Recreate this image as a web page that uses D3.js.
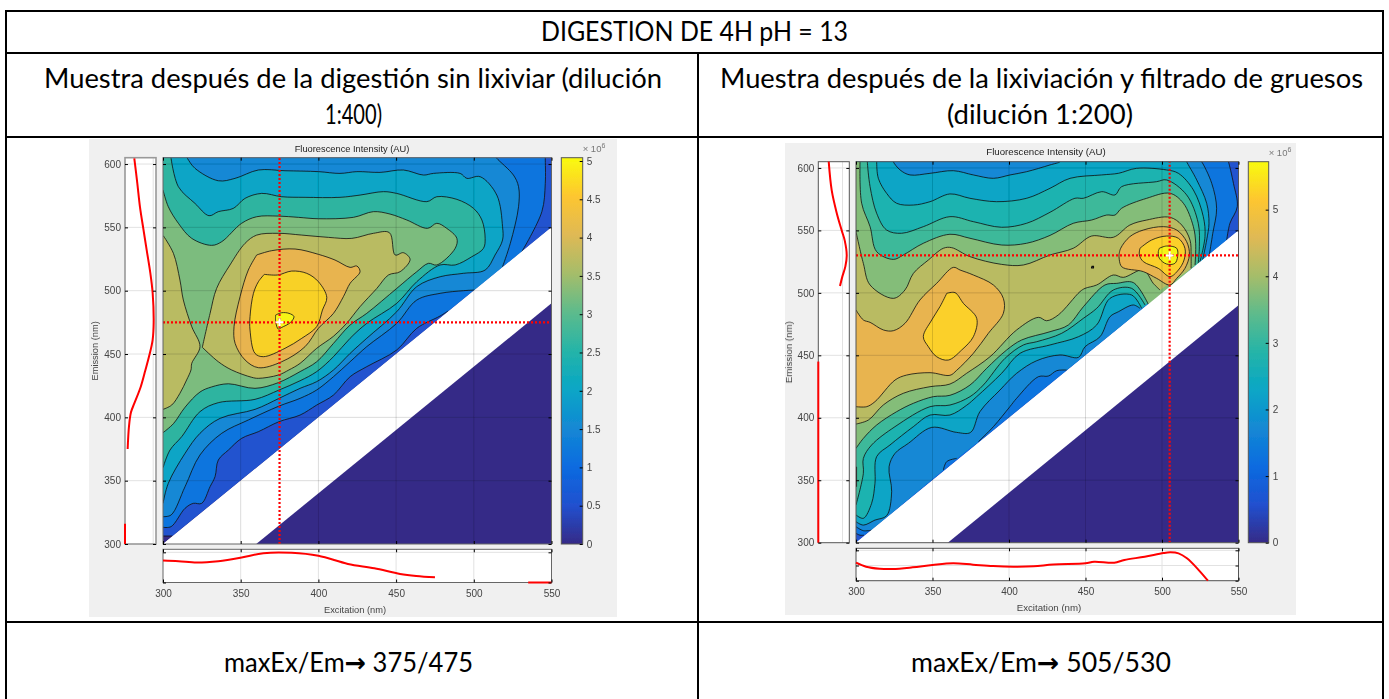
<!DOCTYPE html>
<html>
<head>
<meta charset="utf-8">
<script src="https://cdnjs.cloudflare.com/ajax/libs/d3/7.8.5/d3.min.js"></script>
<style>
    body { margin: 0; background: #fff; }
    svg { display: block; }
    .matlab text { font-family: "Liberation Sans", sans-serif; fill: #444; }
    .tbl { font-family: Lato, sans-serif; fill: #000; }
</style>
</head>
<body>
<svg width="1389" height="699">
    <filter id="soft" x="0" y="0" width="1" height="1"><feGaussianBlur stdDeviation="0.4"></feGaussianBlur></filter>
</svg>
<script>
// every contour is [excitation, emission], a level is a list of pieces joined into one ring
let leftBase = [[[300, 306.3], [306, 306.3]], [[550, 550]], [[550, 606]], [[300, 606]]];
let leftE = [
    [[300, 313.2], [305.2, 313.7], [314.2, 328.2], [319.5, 332.1], [324.9, 332.1], [330.3, 345.3], [333.5, 353.2], [335.6, 366.3], [342.1, 374.2], [350.6, 383.4], [361.4, 388.7], [374.7, 396.6], [388.2, 401.8], [398.9, 409.7], [409.7, 417.6], [420.4, 432.1], [431.1, 440], [450.4, 453.2], [463.3, 470.3], [478.3, 480], [483.5, 484]],
    [[530.9, 530.8], [543.8, 562.4], [546, 584.7], [546, 604.5], [546, 606]],
    [[300, 606]]
];
let leftD = [
    [[300, 321.6], [305.2, 322.9], [314.2, 345.3], [323.8, 370.3], [337.8, 387.4], [354.9, 397.9], [374.7, 408.9], [388.2, 415], [398.9, 421.6], [409.7, 432.1], [420.4, 443.9], [431.1, 455.8], [450.4, 474.2], [463.3, 492.6], [478.3, 497.9], [493.3, 500], [500.4, 500.5]],
    [[518.5, 518.9], [523.5, 537.4], [528.8, 566.3], [528.8, 582.1], [525.5, 591.3], [514.8, 604.5], [514, 606]],
    [[300, 606]]
];
let leftC = [
    [[300, 332.1], [303.4, 347.9], [314.2, 371.6], [323.8, 387.4], [336.7, 399.2], [359.2, 406.3], [374.7, 415], [388.2, 422.9], [398.9, 428.2], [409.7, 437.4], [420.4, 450.5], [431.1, 462.4], [450.4, 483.4], [463.3, 503.2], [478.3, 511], [493.3, 513.7], [507.3, 516.3], [513.7, 528.2], [518.5, 540], [518.5, 550.5], [514.8, 575.5], [504.1, 590], [495.5, 588.7], [491.2, 592.6], [474, 592.6], [467.6, 591.3], [454.7, 595.3], [439.7, 593.4], [424.7, 594], [413.9, 592.6], [400, 594], [378.5, 594.7], [361.4, 595.3], [346.4, 588.7], [335.6, 586.8], [320.6, 596.6], [315.7, 604.5], [315, 606]],
    [[300, 606]]
];
let leftB = [
    [[300, 360.3], [304.5, 374.2], [312, 384.7], [323.8, 404.5], [335.6, 411.6], [359.2, 414.2], [374.7, 421.6], [388.2, 428.9], [398.9, 436.1], [409.7, 447.9], [420.4, 462.4], [431.1, 474.2], [450.4, 490], [463.3, 507.1], [478.3, 520.3], [488, 520.3], [498.7, 526.8], [506.2, 533.4], [507.3, 541.3], [505.2, 555.8], [499.8, 565], [489.1, 572.1], [476.2, 574.2], [469.8, 570.3], [450.4, 576.8], [441.9, 578.2], [426.8, 575.5], [413.9, 573.7], [391.4, 573.7], [376.4, 574.2], [363.5, 576.8], [352.8, 572.9], [345.3, 565], [335.6, 562.4], [329.6, 559.2], [320.6, 568.9], [309.9, 582.1], [305, 606]],
    [[300, 606]]
];
let leftA = [
    [[300, 387.9], [306.7, 395], [314.2, 408], [323.8, 420], [331.3, 424], [342.1, 426.5], [359.2, 422.9], [374.2, 427.4], [388.2, 436.1], [398.9, 443.9], [409.7, 458.4], [420.4, 472.9], [431.1, 482.1], [450.4, 501.8], [463.3, 515], [470.8, 521.6], [476.2, 520.3], [488, 533.4], [489.1, 541.3], [482.6, 549.2], [476.2, 553.2], [470.2, 549.2], [456.9, 555.8], [446.1, 560.5], [435.4, 562.4], [422.5, 557.9], [400, 556.8], [387.1, 557.9], [374.2, 558.9], [360.3, 558.4], [350.6, 553.2], [337.8, 538.7], [331.3, 535.8], [318.5, 541.3], [309.9, 553.2], [303.4, 566.3], [300, 579.5]]
];
let leftF1 = [
    [[325.3, 455.3], [330.3, 482.1], [334.5, 501.8], [343.1, 520.3], [352.8, 537.4], [360.3, 543.9], [374.2, 545.3], [389.3, 543.9], [406.4, 542.1], [421.5, 541.3], [435.4, 545.3], [445.7, 545.8], [449.4, 528.2], [454.7, 530], [459, 524.7], [452.6, 515], [445.1, 512.4], [437.6, 501.8], [426.8, 487.4], [418, 474], [409.7, 464], [398.9, 454.5], [388.2, 442.6], [381, 437.4], [374.2, 433.4], [361.4, 430.8], [357.1, 431.6], [344.2, 437.4], [335.6, 443.9], [325.3, 455.3]]
];
let leftF2 = [
    [[300.2, 543.4], [306.7, 529.5], [310.9, 508.4], [313.1, 492.6], [318.5, 471.6], [323.8, 455.8], [318.5, 442.6], [318, 437.4], [315.2, 429.5], [310.9, 419], [305.6, 409.7], [300, 406.3]]
];
let leftG = [
    [[360.3, 528.2], [370, 531.6], [385, 532.9], [400, 528.7], [410.7, 524.2], [420.4, 518.4], [424.7, 519.5], [426.8, 515], [420.4, 505.8], [416.1, 495.3], [409.7, 482.1], [400, 470.3], [391.4, 455.8], [376.4, 443.9], [361.4, 439.2], [352.8, 445.3], [346.4, 458.4], [345.7, 471.6], [349.6, 495.3], [354.9, 516.3], [360.3, 528.2]]
];
let leftH = [
    [[365.2, 512.9], [373.8, 512.4], [382.8, 515.5], [392.5, 513.7], [400, 507.1], [405.4, 494.7], [402.6, 484.7], [398.9, 471.6], [389.3, 462.4], [378.5, 454.5], [364.6, 447.9], [359.2, 450.5], [356, 468.9], [356, 479.5], [358.2, 497.9], [361.4, 507.1], [365.2, 512.9]]
];
let leftI = [
    [[372.5, 480.8], [376.4, 482.6], [381.1, 482.1], [384.3, 479.5], [381.8, 474.7], [376.4, 471], [374.2, 469.7], [372.5, 475.5], [372.5, 480.8]]
];

let rightH = [
    [[300, 307.5], [302.6, 306], [305.2, 306]],
    [[542.3, 542.3], [544.4, 555.7], [549.2, 569], [546.7, 587.7], [543.4, 605], [543, 606]],
    [[300, 606]]
];
let rightG = [
    [[300, 312.8], [304.8, 309.6], [310, 310]],
    [[357.1, 358.2], [359.3, 364.9], [365.8, 367.5]],
    [[380, 380.9], [389.8, 392.9], [400.6, 408.9], [405, 415.6], [419.2, 432.9], [425.7, 433.4], [431.2, 437.7], [437.7, 438.2]],
    [[531, 531], [533.2, 547.7], [535.7, 567.7], [532.5, 587.7], [525.9, 605], [525, 606]],
    [[300, 606]]
];
let rightF = [
    [[300, 316.8], [304.8, 314.1], [312.4, 318.1], [320, 321.6], [323.3, 340.8], [321.6, 360.8], [325.5, 371.5], [334.2, 379.5], [349.5, 392.3], [365.8, 388.3], [374.9, 388.3], [381, 404.9], [394.1, 422.2], [405, 435.6], [418.1, 445.7], [433.3, 450.3], [445.4, 448.4], [449.7, 456.9], [459.5, 464.9], [466, 480.9], [471.5, 484.9], [481.3, 490.3], [485.6, 487.6]],
    [[526.6, 526.6], [529.2, 542.3], [530.7, 555.7], [529.2, 571.7], [522.7, 590.4], [516.1, 605], [515.8, 606]],
    [[433.3, 606], [433.3, 605], [426.8, 602.4], [411.5, 597], [400.7, 594.4], [389.8, 591.7], [376.7, 594.4], [363.6, 597.8], [348.4, 595.7], [335.3, 594.4], [328.8, 598.4], [324.4, 605], [324.4, 606]],
    [[300, 606]]
];
let rightE = [
    [[300, 322.2], [304.8, 319.5], [310.2, 331.5], [312.4, 347.5], [313.5, 368.9], [322.2, 378.2], [337.5, 392.9], [348.4, 402.2], [361.4, 402.2], [372.3, 410], [378.9, 416.9], [395.2, 435.6], [407.2, 451.6], [426.8, 458.3], [445.4, 464.9], [457.3, 474.3], [466, 495.6], [480.2, 498.3], [486.7, 487.6]],
    [[524.8, 524.8], [528.1, 545], [527, 561], [520.5, 582.4], [510.7, 595.7], [503, 598.4], [483.4, 599.7], [471.5, 595.7], [460.6, 594.4], [439.9, 591.7], [426.8, 583.7], [411.5, 575.7], [391.9, 573], [374.5, 575.7], [361.4, 579.2], [348.4, 573], [337.5, 570.3], [326.6, 571.7], [320, 579.7], [314.6, 591.7], [313.5, 605], [313.5, 606]],
    [[300, 606]]
];
let rightD = [
    [[300, 330.2], [304.8, 355.5], [304.8, 367.5], [310.2, 378.2], [325.5, 392.9], [348.4, 408.9], [361.4, 410.2], [374.5, 416.9], [383.2, 426.2], [397.4, 447.6], [409.4, 458.3], [418.1, 460.9], [434.4, 467.6], [448.6, 479.6], [457.3, 487.6], [468.2, 502.3], [480.2, 503.6], [488.9, 490.3]],
    [[523.7, 523.7], [524.4, 537], [523.7, 555.7], [516.1, 578.4], [503, 590.4], [496.5, 589], [473.6, 585], [469.3, 578.4], [460.6, 581], [448.6, 575.7], [443.1, 575.7], [426.8, 564.5], [411.5, 555.7], [395.2, 552.5], [376.7, 557], [361.4, 561], [344, 553], [329.8, 547.7], [320, 550.3], [313.5, 563.7], [309.2, 585], [307.4, 605], [307.4, 606]],
    [[300, 606]]
];
let rightC = [
    [[300, 375.5], [304.8, 383.5], [313.5, 394.2], [326.6, 404.9], [337.5, 411.6], [350.5, 416.9], [361.4, 418], [374.5, 426.2], [385.4, 439.6], [398.5, 454.3], [408.3, 462.3], [426.8, 468.9], [438.8, 474.3], [448.6, 488.9], [462.7, 506.3], [470.4, 507.6], [481.3, 508.2], [492.2, 488]],
    [[521.6, 522.3], [522, 539.7], [520.5, 553], [514, 571.7], [505.2, 579.7], [490, 575.7], [473.6, 567.7], [469.3, 562.3], [463.8, 562.3], [454, 558.3], [442, 555.7], [426.8, 546], [411.5, 539.7], [395.2, 538.3], [374.5, 543.7], [361.4, 546.9], [344, 539.7], [330.9, 530.3], [324.4, 526.8], [313.5, 533], [309.2, 553], [303.7, 571.7], [302.6, 605], [302.6, 606]],
    [[300, 606]]
];
let rightB = [
    [[300, 549], [304.8, 523.6], [309.2, 506.3], [324.4, 495.6], [332, 502.3], [337.5, 515.6], [347.3, 526.3], [357.1, 535.7], [362.5, 536.2], [374.5, 529], [395.2, 522.8], [409.4, 522.3], [426.8, 530.3], [442, 535.7], [454, 545.5], [468.2, 544.5], [479, 554.3], [490, 558.3], [505.2, 560.5], [512.9, 554.3], [518.3, 542.3], [519, 530.3], [519, 519.6]],
    [[498.7, 502.3], [494.3, 507.6], [487.8, 518.3], [474.7, 512.4], [468.2, 514.3], [457.3, 506.3], [449.7, 503.6], [446.4, 501], [432.2, 482.3], [424.6, 477.7], [419.2, 480.4], [405, 470.3], [387.6, 448.9], [372.3, 435.6], [361.4, 427], [348.4, 424.9], [330.9, 419.6], [317.9, 410.3], [308.1, 398.2], [300, 395]]
];
let rightO1 = [
    [[300, 486.3], [304.8, 478.3], [309.2, 476.4], [317.9, 470.3], [324.4, 469.7], [332, 475.6], [341.8, 494.3], [352.7, 507.6], [363.6, 520.4], [368, 518.3], [376.7, 514.3], [389.8, 506.3], [396.3, 495.6], [396.3, 483.6], [386.5, 467.6], [376.7, 451.6], [365.8, 438], [361.4, 434], [348.4, 436.1], [333.1, 434.2], [325.5, 430.2], [312.4, 412.9], [307, 408.9], [300, 408.9]]
];
let rightO2 = [
    [[471.9, 530.3], [473, 535.7], [479, 545], [487.8, 550.3], [500.9, 553], [509.6, 550.3], [516.1, 541], [517.9, 530.3], [515, 519.6], [509.6, 511.6], [505.2, 506.3], [496.5, 511.6], [487.8, 517], [473.6, 521], [471.9, 530.3]]
];
let rightY1 = [
    [[359.3, 499.6], [364.7, 500.2], [370.2, 491.6], [378.9, 479.6], [376.7, 464.9], [369.1, 454.3], [360.3, 446.2], [352.7, 448.9], [347.3, 456.9], [344, 464.9], [349.5, 478.3], [354.9, 489], [359.3, 499.6]]
];
let rightY2 = [
    [[485.6, 535.7], [493.2, 542.3], [503, 545.5], [510.7, 543.7], [515, 535.7], [514.4, 526.3], [510.7, 518.3], [505.2, 513], [497.6, 519.6], [487.8, 525], [485.2, 530.3], [485.6, 535.7]]
];
let rightPeak = [
    [[498.3, 535.7], [503, 537.5], [509.6, 535.7], [510.2, 529], [508.4, 523.6], [503, 523.1], [498.3, 527.6], [497.6, 533], [498.3, 535.7]]
];
let rightSpeck = [[[454, 521.2], [455.2, 521.2], [455.2, 520], [454, 520], [454, 521.2]]];
let rightStub = [[[300.3, 344.8], [300.3, 360.8]]];

// profile curves, [wavelength, intensity in 1e6]
let leftEmProfile = [[604.5, 1.65], [585, 2.18], [566, 2.66], [549, 3.25], [532, 3.85], [514, 4.49], [498, 4.91], [475, 5.09], [461, 4.9], [448, 4.26], [437, 3.6], [424, 2.78], [411, 1.65], [404, 1.06], [393, 0.71], [375, 0.47]];
let leftEmZero = [[316, 0], [300, 0]];
let leftExProfile = [[300, 3.63], [310, 3.53], [321.7, 3.3], [335.6, 3.53], [350.6, 4.14], [364.6, 4.86], [382.8, 4.92], [400, 4.42], [419, 3.08], [436, 2.36], [452.6, 1.42], [463, 1.08], [475, 0.86]];
let leftExZero = [[535, 0], [550, 0]];
let rightEmProfile = [[605, 2.15], [582, 2.77], [564, 3.8], [550, 4.83], [542, 5.45], [530, 5.87], [521, 5.58], [513, 4.96], [505.5, 4.48]];
let rightEmZero = [[445, 0], [300, 0]];
let rightExProfile = [[300, 3.56], [306.6, 2.77], [315.4, 2.37], [324, 2.31], [337, 2.64], [350, 3.1], [363.5, 3.43], [376.5, 3.17], [389.6, 2.9], [402.8, 2.77], [416, 2.84], [429, 3.2], [450, 3.43], [455.6, 3.76], [468.8, 3.56], [475.4, 4.09], [488.7, 4.74], [501, 5.47], [505.5, 5.6], [510.8, 5.4], [516.3, 4.42], [524, 2.1], [530, 0]];

let exTicks = [300, 350, 400, 450, 500, 550];
let emTicks = [300, 350, 400, 450, 500, 550, 600];
let leftBarTicks = [0, 0.5, 1, 1.5, 2, 2.5, 3, 3.5, 4, 4.5, 5];
let rightBarTicks = [0, 1, 2, 3, 4, 5];

let parula = ["#352a87", "#2150cf", "#0a6be0", "#1488d4", "#07a6c6", "#25b4a8", "#5dbb8c", "#a5bd6a", "#dfb955", "#fdc630", "#f9fb0e"];
let leftColors = ["#2353cf", "#0f75de", "#1388d5", "#07a5c6", "#2db4a0", "#7cbc7e", "#b9bb62", "#b9bb62", "#e8b44f", "#f8d128", "#f5f515"];
let rightColors = ["#0f75de", "#1388d5", "#07a5c6", "#1ab3b0", "#3eb99a", "#84bd79", "#b9bb62", "#e8b44f", "#e8b44f", "#fbd029", "#fbd029", "#f5f515"];

let whiteBand = [[300, 300], [550, 550], [550, 490], [360, 300]];
let zeroBand = [[360, 300], [550, 490], [550, 300]];
let topTriangle = [[300, 300], [550, 550], [550, 606], [300, 606]];

let svg = d3.select("svg");

// word table around the two figures
let tableLines = [[6, 11, 1383, 11], [6, 53, 1383, 53], [6, 137, 1383, 137], [6, 622, 1383, 622], [6, 11, 6, 699], [1383, 11, 1383, 699], [698, 53, 698, 699]];
svg.selectAll(".rule").data(tableLines).enter().append("line")
    .attr("x1", d => d[0]).attr("y1", d => d[1]).attr("x2", d => d[2]).attr("y2", d => d[3])
    .attr("stroke", "#000").attr("stroke-width", 2).attr("stroke-linecap", "square");

let tableText = [
    ["DIGESTION DE 4H pH = 13", 694.5, 41, 307],
    ["Muestra después de la digestión sin lixiviar (dilución", 353, 88, 618],
    ["1:400)", 353.5, 124, 57],
    ["Muestra después de la lixiviación y filtrado de gruesos", 1041.5, 88, 643],
    ["(dilución 1:200)", 1040, 124, 186]
];
svg.selectAll(".tbl").data(tableText).enter().append("text")
    .attr("class", "tbl").attr("x", d => d[1]).attr("y", d => d[2])
    .attr("text-anchor", "middle").attr("font-size", 26)
    .attr("textLength", d => d[3]).attr("lengthAdjust", "spacingAndGlyphs")
    .text(d => d[0]);

function maxText(cx, width, value) {
    let t = svg.append("text").attr("class", "tbl").attr("x", cx).attr("y", 672)
        .attr("text-anchor", "middle").attr("font-size", 26)
        .attr("textLength", width).attr("lengthAdjust", "spacingAndGlyphs");
    t.append("tspan").text("maxEx/Em");
    t.append("tspan").attr("font-family", "DejaVu Sans").attr("font-weight", "bold").text("→");
    t.append("tspan").text(" " + value);
}
maxText(348.5, 249, "375/475");
maxText(1041, 260, "505/530");

function drawFigure(cfg) {
    let g = svg.append("g").attr("class", "matlab").attr("filter", "url(#soft)");

    g.append("rect").attr("x", cfg.panel[0]).attr("y", cfg.panel[1])
        .attr("width", cfg.panel[2] - cfg.panel[0]).attr("height", cfg.panel[3] - cfg.panel[1])
        .attr("fill", "#f0f0f0");

    let x = d3.scaleLinear().domain([300, 550]).range(cfg.xRange);
    let y = d3.scaleLinear().domain([300, 605]).range(cfg.yRange);
    let line = d3.line().x(d => x(d[0])).y(d => y(d[1]));
    let smooth = d3.line().x(d => x(d[0])).y(d => y(d[1])).curve(d3.curveCatmullRom.alpha(0.5));

    let clipId = "clip" + cfg.id;
    g.append("clipPath").attr("id", clipId).append("rect")
        .attr("x", cfg.xRange[0]).attr("y", cfg.yRange[1])
        .attr("width", cfg.xRange[1] - cfg.xRange[0]).attr("height", cfg.yRange[0] - cfg.yRange[1]);

    let plot = g.append("g").attr("clip-path", "url(#" + clipId + ")");

    plot.append("path").attr("d", line(topTriangle) + "Z").attr("fill", cfg.baseColor);

    // filled rings from the lowest level up, then only the real contour pieces get a line
    cfg.levels.forEach(function (level, i) {
        let ring = level.map(function (piece, k) {
            let d = smooth(piece).replace("Z", "");
            return k ? d.replace(/^M/, "L") : d;
        }).join("") + "Z";
        plot.append("path").attr("d", ring).attr("fill", cfg.colors[i]);
        level.filter(s => s.length > 1).forEach(function (piece) {
            plot.append("path").attr("d", smooth(piece))
                .attr("fill", "none").attr("stroke", "#111").attr("stroke-width", 0.9).attr("stroke-opacity", 0.9);
        });
    });
    (cfg.extras || []).forEach(function (piece) {
        plot.append("path").attr("d", line(piece)).attr("fill", "none").attr("stroke", "#111").attr("stroke-width", 1.2);
    });

    plot.append("path").attr("d", line(whiteBand) + "Z").attr("fill", "#fff");
    plot.append("path").attr("d", line(zeroBand) + "Z").attr("fill", "#352a87");

    // grid
    exTicks.slice(1, -1).forEach(function (t) {
        plot.append("line").attr("x1", x(t)).attr("x2", x(t)).attr("y1", cfg.yRange[0]).attr("y2", cfg.yRange[1])
            .attr("stroke", "#000").attr("stroke-opacity", 0.14);
    });
    emTicks.slice(1).forEach(function (t) {
        plot.append("line").attr("x1", cfg.xRange[0]).attr("x2", cfg.xRange[1]).attr("y1", y(t)).attr("y2", y(t))
            .attr("stroke", "#000").attr("stroke-opacity", 0.14);
    });

    // crosshair on the maximum
    plot.append("line").attr("x1", x(cfg.peak[0])).attr("x2", x(cfg.peak[0])).attr("y1", cfg.yRange[0]).attr("y2", cfg.yRange[1])
        .attr("stroke", "#f00").attr("stroke-width", 2.2).attr("stroke-dasharray", "2,2");
    plot.append("line").attr("x1", cfg.xRange[0]).attr("x2", cfg.xRange[1]).attr("y1", y(cfg.peak[1])).attr("y2", y(cfg.peak[1]))
        .attr("stroke", "#f00").attr("stroke-width", 2.2).attr("stroke-dasharray", "2,2");
    g.append("path")
        .attr("d", "M" + (x(cfg.peak[0]) - 4) + "," + y(cfg.peak[1]) + "h8M" + x(cfg.peak[0]) + "," + (y(cfg.peak[1]) - 4) + "v8")
        .attr("stroke", "#fff").attr("stroke-width", 2);

    g.append("rect").attr("x", cfg.xRange[0]).attr("y", cfg.yRange[1])
        .attr("width", cfg.xRange[1] - cfg.xRange[0]).attr("height", cfg.yRange[0] - cfg.yRange[1])
        .attr("fill", "none").attr("stroke", cfg.frame);

    let xAxisIn = d3.axisBottom(x).tickValues(exTicks).tickSize(-3).tickFormat("");
    g.append("g").attr("transform", "translate(0," + cfg.yRange[0] + ")").call(xAxisIn).call(s => s.select(".domain").remove());
    g.append("g").attr("transform", "translate(0," + cfg.yRange[1] + ")").call(d3.axisTop(x).tickValues(exTicks).tickSize(-3).tickFormat("")).call(s => s.select(".domain").remove());
    g.append("g").attr("transform", "translate(" + cfg.xRange[0] + ",0)").call(d3.axisLeft(y).tickValues(emTicks).tickSize(-3).tickFormat("")).call(s => s.select(".domain").remove());
    g.append("g").attr("transform", "translate(" + cfg.xRange[1] + ",0)").call(d3.axisRight(y).tickValues(emTicks).tickSize(-3).tickFormat("")).call(s => s.select(".domain").remove());

    // emission profile on the left
    let sideX = d3.scaleLinear().domain(cfg.sideDomain).range(cfg.sideRange);
    let sideW = cfg.sideRange[1] - cfg.sideRange[0];
    let side = g.append("g");
    side.append("rect").attr("x", cfg.sideRange[0]).attr("y", cfg.yRange[1]).attr("width", sideW)
        .attr("height", cfg.yRange[0] - cfg.yRange[1]).attr("fill", "#fff");
    emTicks.slice(1).forEach(function (t) {
        side.append("line").attr("x1", cfg.sideRange[0]).attr("x2", cfg.sideRange[1]).attr("y1", y(t)).attr("y2", y(t)).attr("stroke", "#e2e2e2");
    });
    side.append("line").attr("x1", sideX(5)).attr("x2", sideX(5)).attr("y1", cfg.yRange[0]).attr("y2", cfg.yRange[1]).attr("stroke", "#e2e2e2");
    let emLine = d3.line().x(d => sideX(d[1])).y(d => y(d[0])).curve(d3.curveCatmullRom.alpha(0.5));
    side.append("rect").attr("x", cfg.sideRange[0]).attr("y", cfg.yRange[1]).attr("width", sideW)
        .attr("height", cfg.yRange[0] - cfg.yRange[1]).attr("fill", "none").attr("stroke", cfg.sideFrame).attr("stroke-width", cfg.sideFrameWidth);
    cfg.emCurves.forEach(function (c) {
        side.append("path").attr("d", emLine(c)).attr("fill", "none").attr("stroke", "#f00").attr("stroke-width", 2);
    });
    let yLabels = side.append("g").attr("transform", "translate(" + cfg.sideRange[0] + ",0)")
        .call(d3.axisLeft(y).tickValues(emTicks).tickSize(-3).tickPadding(4));
    yLabels.select(".domain").remove();
    yLabels.selectAll("text").attr("font-size", 10).attr("font-family", null);
    side.append("g").attr("transform", "translate(" + cfg.sideRange[1] + ",0)")
        .call(d3.axisRight(y).tickValues(emTicks).tickSize(-3).tickFormat("")).call(s => s.select(".domain").remove());

    // excitation profile below
    let botY = d3.scaleLinear().domain(cfg.sideDomain).range(cfg.botRange);
    let bot = g.append("g");
    bot.append("rect").attr("x", cfg.xRange[0]).attr("y", cfg.botRange[1]).attr("width", cfg.xRange[1] - cfg.xRange[0])
        .attr("height", cfg.botRange[0] - cfg.botRange[1]).attr("fill", "#fff");
    exTicks.slice(1, -1).forEach(function (t) {
        bot.append("line").attr("x1", x(t)).attr("x2", x(t)).attr("y1", cfg.botRange[0]).attr("y2", cfg.botRange[1]).attr("stroke", "#e2e2e2");
    });
    cfg.botTicks.forEach(function (t) {
        bot.append("line").attr("x1", cfg.xRange[0]).attr("x2", cfg.xRange[1]).attr("y1", botY(t)).attr("y2", botY(t)).attr("stroke", "#e2e2e2");
    });
    let exLine = d3.line().x(d => x(d[0])).y(d => botY(d[1])).curve(d3.curveCatmullRom.alpha(0.5));
    bot.append("rect").attr("x", cfg.xRange[0]).attr("y", cfg.botRange[1]).attr("width", cfg.xRange[1] - cfg.xRange[0])
        .attr("height", cfg.botRange[0] - cfg.botRange[1]).attr("fill", "none").attr("stroke", cfg.frame);
    cfg.exCurves.forEach(function (c) {
        bot.append("path").attr("d", exLine(c)).attr("fill", "none").attr("stroke", "#f00").attr("stroke-width", 2);
    });
    let xLabels = bot.append("g").attr("transform", "translate(0," + cfg.botRange[0] + ")")
        .call(d3.axisBottom(x).tickValues(exTicks).tickSize(-3).tickPadding(7));
    xLabels.select(".domain").remove();
    xLabels.selectAll("text").attr("font-size", 10).attr("font-family", null);
    bot.append("g").attr("transform", "translate(0," + cfg.botRange[1] + ")")
        .call(d3.axisTop(x).tickValues(exTicks).tickSize(-3).tickFormat("")).call(s => s.select(".domain").remove());
    bot.append("g").attr("transform", "translate(" + cfg.xRange[0] + ",0)")
        .call(d3.axisLeft(botY).tickValues(cfg.botTicks).tickSize(-3).tickFormat("")).call(s => s.select(".domain").remove());
    bot.append("g").attr("transform", "translate(" + cfg.xRange[1] + ",0)")
        .call(d3.axisRight(botY).tickValues(cfg.botTicks).tickSize(-3).tickFormat("")).call(s => s.select(".domain").remove());

    // colorbar
    let gradId = "grad" + cfg.id;
    let grad = g.append("linearGradient").attr("id", gradId).attr("x1", 0).attr("x2", 0).attr("y1", 1).attr("y2", 0);
    parula.forEach(function (c, i) {
        grad.append("stop").attr("offset", i / (parula.length - 1)).attr("stop-color", c);
    });
    let cbar = d3.scaleLinear().domain(cfg.barDomain).range(cfg.yRange);
    g.append("rect").attr("x", cfg.barX[0]).attr("y", cfg.yRange[1]).attr("width", cfg.barX[1] - cfg.barX[0])
        .attr("height", cfg.yRange[0] - cfg.yRange[1]).attr("fill", "url(#" + gradId + ")").attr("stroke", "#555");
    let barAxis = g.append("g").attr("transform", "translate(" + cfg.barX[1] + ",0)")
        .call(d3.axisRight(cbar).tickValues(cfg.barTicks).tickSize(-3).tickPadding(4).tickFormat(d3.format("~g")));
    barAxis.select(".domain").remove();
    barAxis.selectAll("text").attr("font-size", 10).attr("font-family", null);

    let power = g.append("text").attr("x", cfg.barX[1]).attr("y", cfg.yRange[1] - 6).attr("font-size", 9.5).style("fill", "#777");
    power.append("tspan").text("× 10");
    power.append("tspan").attr("dy", -4).attr("font-size", 7).text("6");

    g.append("text").attr("x", cfg.titleX).attr("y", cfg.titleY).attr("text-anchor", "middle")
        .attr("font-size", cfg.labelSize).style("fill", "#222").text("Fluorescence Intensity (AU)");
    g.append("text").attr("x", cfg.titleX + 3).attr("y", cfg.botRange[0] + 30).attr("text-anchor", "middle")
        .attr("font-size", cfg.labelSize).text("Excitation (nm)");
    g.append("text").attr("transform", "translate(" + cfg.emLabelX + "," + ((cfg.yRange[0] + cfg.yRange[1]) / 2) + ") rotate(-90)")
        .attr("text-anchor", "middle").attr("font-size", cfg.labelSize).text("Emission (nm)");
}

drawFigure({
    id: "L",
    panel: [89, 139, 617, 617],
    xRange: [163, 551.5], yRange: [544, 157.7],
    sideRange: [125, 156], sideDomain: [0, 5.5], sideFrame: "#999", sideFrameWidth: 1.6,
    botRange: [582.5, 549.3], botTicks: [0, 5],
    barX: [561.3, 582.7], barDomain: [0, 5.043], barTicks: leftBarTicks,
    frame: "#666", titleX: 352, titleY: 152, emLabelX: 98, labelSize: 9.3,
    peak: [375, 475], baseColor: "#352a87",
    levels: [leftBase, leftE, leftD, leftC, leftB, leftA, leftF1, leftF2, leftG, leftH, leftI],
    colors: leftColors,
    emCurves: [leftEmProfile, leftEmZero], exCurves: [leftExProfile, leftExZero]
});

drawFigure({
    id: "R",
    panel: [785, 143, 1296, 615],
    xRange: [856, 1238.5], yRange: [542.7, 161.7],
    sideRange: [818.3, 849.3], sideDomain: [0, 6.4], sideFrame: "#555", sideFrameWidth: 1,
    botRange: [580.7, 548.3], botTicks: [0, 3, 6],
    barX: [1248.3, 1268.7], barDomain: [0, 5.72], barTicks: rightBarTicks,
    frame: "#555", titleX: 1046, titleY: 155, emLabelX: 792, labelSize: 9.7,
    peak: [505, 530], baseColor: "#2353cf",
    levels: [rightH, rightG, rightF, rightE, rightD, rightC, rightB, rightO1, rightO2, rightY1, rightY2, rightPeak],
    colors: rightColors,
    extras: [rightSpeck[0], rightStub[0]],
    emCurves: [rightEmProfile, rightEmZero], exCurves: [rightExProfile]
});
</script>
</body>
</html>
